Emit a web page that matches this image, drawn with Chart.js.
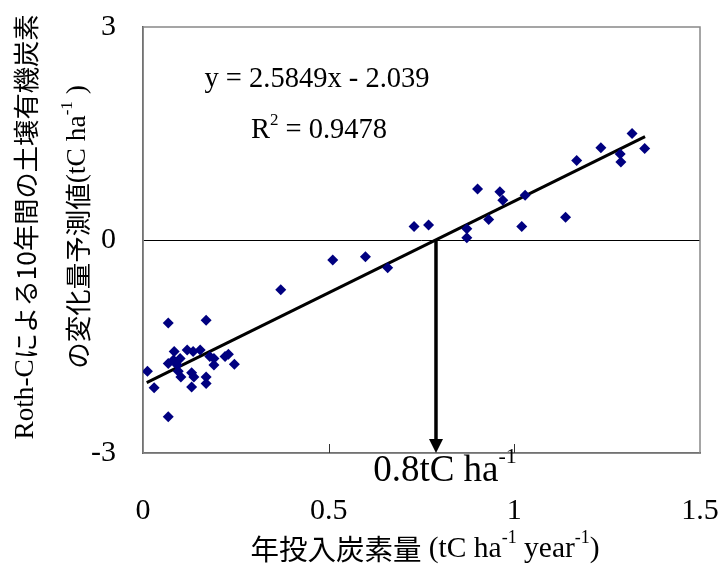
<!DOCTYPE html>
<html>
<head>
<meta charset="utf-8">
<script src="https://cdn.jsdelivr.net/npm/chart.js@4/dist/chart.umd.min.js"></script>
<style>
  body { margin: 0; background: #fff; }
  canvas { display: block; }
</style>
</head>
<body>
<canvas id="chart" width="722" height="569"></canvas>
<script>
// --- data ---
const inputC = [
  0.068, 0.170, 0.012, 0.030, 0.068, 0.084, 0.068, 0.082, 0.100, 0.092,
  0.095, 0.102, 0.119, 0.135, 0.154, 0.131, 0.137, 0.131, 0.170, 0.170,
  0.180, 0.191, 0.191, 0.221, 0.230, 0.246,
  0.371, 0.511, 0.599, 0.659, 0.730, 0.769,
  0.872, 0.872, 0.901, 0.931, 0.961, 0.969, 1.020, 1.029, 1.138, 1.168,
  1.233, 1.285, 1.287, 1.317, 1.351
];
const predictedChange = [
  -1.17, -1.13, -1.85, -2.08, -2.49, -1.57, -1.74, -1.69, -1.67, -1.76,
  -1.85, -1.93, -1.55, -1.57, -1.55, -1.87, -1.93, -2.07, -1.93, -2.02,
  -1.64, -1.67, -1.76, -1.64, -1.61, -1.75,
  -0.70, -0.28, -0.235, -0.39, 0.19, 0.21,
  0.03, 0.16, 0.72, 0.29, 0.68, 0.56, 0.19, 0.63, 0.32, 1.12,
  1.30, 1.21, 1.10, 1.50, 1.29
];
const trendX = [0.010, 1.352];
const trendY = [-2.01, 1.456];
const breakEvenX = 0.789;

const xTicks = [0, 0.5, 1, 1.5];
const yTicks = [-3, 0, 3];

const equationText = 'y = 2.5849x - 2.039';
const r2Value = '0.9478';

const SERIF = '"Liberation Serif", "Times New Roman", serif';
const JP = '"Noto Sans CJK JP", sans-serif';

// draw a row of mixed-font text runs, centred on (x, y)
function drawRuns(ctx, runs, x, y, size) {
  const fontOf = r => {
    const s = r.sup ? Math.round(size * 0.6) : (r.f === 'jp' ? size - 1 : size);
    return s + 'px ' + (r.f === 'jp' ? JP : SERIF);
  };
  let total = 0;
  runs.forEach(r => { ctx.font = fontOf(r); r.w = ctx.measureText(r.t).width; total += r.w; });
  let cx = x - total / 2;
  ctx.textAlign = 'left';
  ctx.textBaseline = 'middle';
  runs.forEach(r => {
    ctx.font = fontOf(r);
    ctx.fillText(r.t, cx, r.sup ? y - size * 0.38 : y);
    cx += r.w;
  });
}

const decorations = {
  id: 'decorations',
  beforeDatasetsDraw(chart) {
    const { ctx, chartArea: a, scales } = chart;
    ctx.save();
    // plot box
    ctx.strokeStyle = '#888';
    ctx.lineWidth = 1.5;
    ctx.strokeRect(a.left, a.top, a.right - a.left, a.bottom - a.top);
    // inner ticks on x axis
    ctx.strokeStyle = '#333';
    ctx.lineWidth = 1;
    xTicks.slice(1, -1).forEach(v => {
      const px = Math.round(scales.x.getPixelForValue(v)) + 0.5;
      ctx.beginPath();
      ctx.moveTo(px, a.bottom);
      ctx.lineTo(px, a.bottom - 9);
      ctx.stroke();
    });
    ctx.restore();
  },
  afterDraw(chart) {
    const { ctx, scales } = chart;
    ctx.save();
    ctx.fillStyle = '#000';
    ctx.strokeStyle = '#000';

    // arrow down from the trend line crossing
    const ax = scales.x.getPixelForValue(breakEvenX);
    const y0 = scales.y.getPixelForValue(0);
    const yb = scales.y.getPixelForValue(-3);
    ctx.lineWidth = 3.5;
    ctx.beginPath();
    ctx.moveTo(ax, y0);
    ctx.lineTo(ax, yb - 12);
    ctx.stroke();
    ctx.beginPath();
    ctx.moveTo(ax - 7, yb - 14);
    ctx.lineTo(ax + 7, yb - 14);
    ctx.lineTo(ax, yb);
    ctx.closePath();
    ctx.fill();

    // annotation under the arrow
    drawRuns(ctx, [{ t: '0.8tC ha', f: 's' }, { t: '-1', f: 's', sup: true }], ax + 9, 471, 37);

    // regression equation
    drawRuns(ctx, [{ t: equationText, f: 's' }], 317, 80, 28.5);
    drawRuns(ctx, [{ t: 'R', f: 's' }, { t: '2', f: 's', sup: true }, { t: ' = ' + r2Value, f: 's' }], 319, 131, 28.5);

    // x axis title
    drawRuns(ctx, [
      { t: '年投入炭素量', f: 'jp' }, { t: ' (tC ha', f: 's' }, { t: '-1', f: 's', sup: true },
      { t: ' year', f: 's' }, { t: '-1', f: 's', sup: true }, { t: ')', f: 's' }
    ], 425, 549, 29.5);

    // y axis title (two rotated lines)
    ctx.save();
    ctx.translate(26, 227);
    ctx.rotate(-Math.PI / 2);
    drawRuns(ctx, [{ t: 'Roth-C', f: 's' }, { t: 'による10年間の土壌有機炭素', f: 'jp' }], 0, 0, 27.3);
    ctx.restore();
    ctx.save();
    ctx.translate(78, 227);
    ctx.rotate(-Math.PI / 2);
    drawRuns(ctx, [
      { t: 'の変化量予測値', f: 'jp' }, { t: '(tC ha', f: 's' }, { t: '-1', f: 's', sup: true }, { t: ' )', f: 's' }
    ], 0, 0, 27.5);
    ctx.restore();

    ctx.restore();
  }
};

new Chart(document.getElementById('chart'), {
  type: 'scatter',
  data: {
    datasets: [
      {
        label: 'points',
        data: inputC.map((x, i) => ({ x: x, y: predictedChange[i] })),
        pointStyle: 'rectRot',
        pointRadius: 5.5,
        backgroundColor: '#000080',
        borderColor: '#000080',
        borderWidth: 0
      },
      {
        label: 'trend',
        type: 'line',
        data: trendX.map((x, i) => ({ x: x, y: trendY[i] })),
        borderColor: '#000',
        borderWidth: 3,
        pointRadius: 0,
        fill: false
      }
    ]
  },
  options: {
    responsive: false,
    animation: false,
    devicePixelRatio: 1,
    layout: { padding: { top: 27, right: 22, bottom: 0, left: 0 } },
    plugins: { legend: { display: false }, tooltip: { enabled: false } },
    scales: {
      x: {
        type: 'linear',
        min: 0, max: 1.5,
        afterBuildTicks: s => { s.ticks = xTicks.map(v => ({ value: v })); },
        afterFit: s => { s.height = 116; s.paddingLeft = 0; s.paddingRight = 0; },
        grid: { display: false },
        border: { display: true, color: '#333', width: 1.5 },
        ticks: {
          padding: 32,
          maxRotation: 0,
          color: '#000',
          font: { family: SERIF, size: 30 },
          callback: v => String(v)
        }
      },
      y: {
        type: 'linear',
        min: -3, max: 3,
        afterBuildTicks: s => { s.ticks = yTicks.map(v => ({ value: v })); },
        afterFit: s => { s.width = 143; s.paddingTop = 0; s.paddingBottom = 0; },
        grid: {
          drawTicks: false,
          color: c => (c.tick && c.tick.value === 0 ? '#000' : 'rgba(0,0,0,0)'),
          lineWidth: 1
        },
        border: { display: true, color: '#333', width: 1.5 },
        ticks: {
          padding: 27,
          color: '#000',
          font: { family: SERIF, size: 30 }
        }
      }
    }
  },
  plugins: [decorations]
});
</script>
</body>
</html>
